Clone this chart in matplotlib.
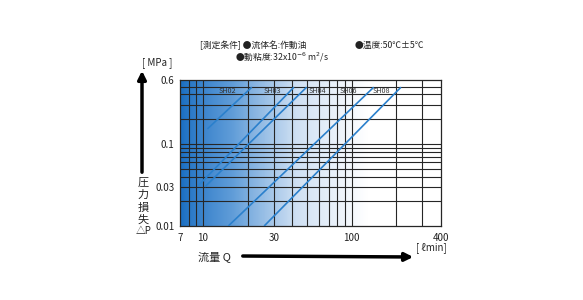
import numpy as np
import matplotlib
matplotlib.use('Agg')
import matplotlib.pyplot as plt
from matplotlib.colors import LinearSegmentedColormap

plt.rcParams['font.family'] = ['Noto Sans CJK JP', 'DejaVu Sans']

# datos (caudal L/min, perdida de presion MPa)
modelos = ['SH02', 'SH03', 'SH04', 'SH06', 'SH08']
q_ini = [10.7, 9.3, 10.3, 14.8, 25.8]
p_ini = [0.152, 0.031, 0.030, 0.010, 0.010]
q_fin = [21.3, 40.9, 49.8, 141, 215]
p_fin = [0.49, 0.49, 0.49, 0.49, 0.49]

x_ticks = [7, 10, 30, 100, 400]
y_ticks = [0.01, 0.03, 0.1, 0.6]
x_rejilla = [8, 9, 10, 20, 30, 40, 50, 60, 70, 80, 90, 100, 200, 300]
y_rejilla = [0.02, 0.03, 0.04, 0.05, 0.06, 0.07, 0.08, 0.09, 0.1,
             0.2, 0.3, 0.4, 0.5]

W, H = 583, 300
def fx(px):
    return px / W
def fy(py):
    return 1 - py / H

fig = plt.figure(figsize=(W / 100, H / 100), dpi=100)
ax = fig.add_axes([fx(180), fy(226), fx(441) - fx(180), fy(80) - fy(226)])
ax.set_xscale('log')
ax.set_yscale('log')
ax.set_xlim(7, 400)
ax.set_ylim(0.01, 0.6)

# fondo degradado azul -> blanco
azul = LinearSegmentedColormap.from_list('azul', ['#1a6ec2', '#5f9cd8', '#cfe0f3', '#ffffff'])
t = np.linspace(0, 1, 300)
grad = np.clip(t / 0.72, 0, 1) ** 0.85
ax.imshow(grad[np.newaxis, :], cmap=azul, aspect='auto', extent=[0, 1, 0, 1],
          transform=ax.transAxes, zorder=0)

# rejilla
for v in x_rejilla:
    ax.axvline(v, color='#262626', lw=0.8, zorder=1)
for v in y_rejilla:
    ax.axhline(v, color='#262626', lw=0.8, zorder=1)

# curvas
for i in range(len(modelos)):
    ax.plot([q_ini[i], q_fin[i]], [p_ini[i], p_fin[i]], color='#2b80cc', lw=1.2,
            solid_capstyle='butt', zorder=3)

pos_etiqueta = [14.5, 29.1, 59.3, 95.9, 160]
for nombre, xe in zip(modelos, pos_etiqueta):
    ax.text(xe, 0.44, nombre, fontsize=5.2, color='#333333', ha='center', va='center',
            zorder=4)

ax.set_xticks(x_ticks)
ax.set_xticklabels([str(v) for v in x_ticks])
ax.set_yticks(y_ticks)
ax.set_yticklabels(['0.01', '0.03', '0.1', '0.6'])
ax.minorticks_off()
ax.tick_params(length=0, labelsize=7, colors='#222222')
ax.tick_params(axis='x', pad=5)
ax.tick_params(axis='y', pad=4)
for s in ax.spines.values():
    s.set_color('#262626')
    s.set_linewidth(0.9)

# textos de condiciones
c = '#222222'
fig.text(fx(200), fy(45), '[測定条件] ●流体名:作動油', fontsize=6.3, color=c, va='center')
fig.text(fx(355), fy(45), '●温度:50℃±5℃', fontsize=6.3, color=c, va='center')
fig.text(fx(235), fy(57), '●動粘度:32x10$^{-6}$ m$^{2}$/s', fontsize=6.3, color=c, va='center')

# eje y: unidad, flecha y titulo vertical
fig.text(fx(157), fy(63), '[ MPa ]', fontsize=7, color=c, ha='center', va='center')
ax.annotate('', xy=(fx(142), fy(68)), xytext=(fx(142), fy(175)),
            xycoords='figure fraction', textcoords='figure fraction',
            arrowprops=dict(arrowstyle='-|>', lw=2.5, color='black', mutation_scale=12))
for k, ch in enumerate('圧力損失'):
    fig.text(fx(143), fy(183 + k * 12.3), ch, fontsize=8, color=c, ha='center', va='center')
fig.text(fx(144), fy(231), '△P', fontsize=7, color=c, ha='center', va='center')

# eje x: unidad, titulo y flecha
fig.text(fx(431), fy(248), '[ ℓmin]', fontsize=7, color=c, ha='center', va='center')
fig.text(fx(214), fy(257), '流量 Q', fontsize=8, color=c, ha='center', va='center')
ax.annotate('', xy=(fx(416), fy(257)), xytext=(fx(240), fy(256)),
            xycoords='figure fraction', textcoords='figure fraction',
            arrowprops=dict(arrowstyle='-|>', lw=2.5, color='black', mutation_scale=12))

fig.savefig('out.png', dpi=100, facecolor='white')
